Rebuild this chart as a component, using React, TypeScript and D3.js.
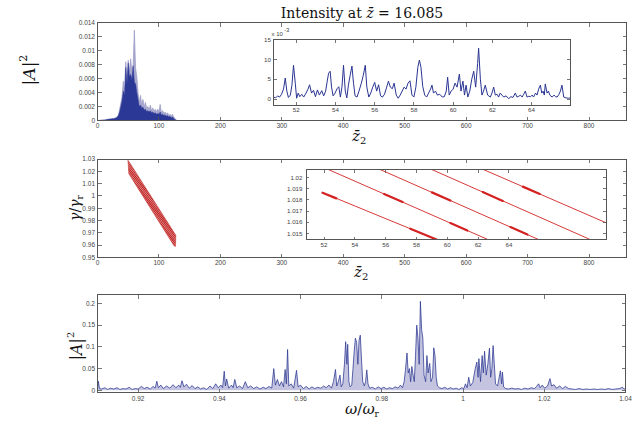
import React from "react";
import * as d3 from "d3";

// ---------------- Panel 1: |A|^2 vs z2 ----------------
const histZ = [0,2,4,6,8,10,12,14,16,18,20,22,24,26,28,30,32,34,36,38,40,42,44,46,48,50,52,54,56,58,60,62,64,66,68,70,72,74,76,78,80,82,84,86,88,90,92,94,96,98,100,102,104,106,108,110,112,114,116,118,120,122,124,126,128,130];
// spike tops (x1e-3)
const histPeak = [0,0,0.02,0.03,0.05,0.06,0.08,0.1,0.15,0.18,0.22,0.2,0.28,0.25,0.35,0.4,0.5,0.8,1.6,2.5,3.4,5.6,4.0,8.4,6.0,8.6,7.0,8.8,6.8,8.0,12.9,7.5,6.2,4.0,2.6,3.6,2.2,3.0,1.9,2.6,1.7,2.0,1.5,2.2,1.4,1.8,1.3,1.6,1.2,1.6,1.3,2.3,1.1,1.4,1.0,1.2,0.9,1.1,0.7,0.9,0.6,0.9,0.5,0.3,0.05,0];
// dense core (x1e-3)
const histCore = [0,0,0.02,0.03,0.05,0.06,0.08,0.1,0.15,0.18,0.2,0.2,0.25,0.25,0.3,0.35,0.45,0.7,1.2,2.0,2.8,4.2,3.6,7.6,5.2,8.2,6.2,6.6,5.8,7.8,5.5,5.2,4.0,3.0,2.0,2.2,1.8,1.9,1.5,1.6,1.3,1.4,1.2,1.4,1.1,1.2,1.0,1.1,0.9,1.0,0.9,1.2,0.8,0.9,0.7,0.8,0.6,0.7,0.5,0.6,0.4,0.5,0.3,0.15,0.02,0];
const topXTicks = [0,100,200,300,400,500,600,700,800];
const topYTicks = [0,0.002,0.004,0.006,0.008,0.01,0.012,0.014];
const topYLabels = ["0","0.002","0.004","0.006","0.008","0.01","0.012","0.014"];

// inset: [z2, |A|^2 x1e-3]
const insetPoints: [number, number][] = [[50.84,0.5],[50.95,0.3],[51.05,0.8],[51.15,0.5],[51.25,1.2],[51.35,2.5],[51.44,5.3],[51.52,2.0],[51.6,0.4],[51.7,1.0],[51.78,3.5],[51.86,8.5],[51.95,4.0],[52.02,0.2],[52.1,1.5],[52.18,0.6],[52.28,1.2],[52.38,0.5],[52.5,1.5],[52.6,2.5],[52.68,3.6],[52.78,1.5],[52.88,2.2],[52.98,0.6],[53.08,2.3],[53.18,1.0],[53.3,2.1],[53.4,0.8],[53.5,2.0],[53.58,4.5],[53.65,6.5],[53.73,7.0],[53.8,3.0],[53.88,0.8],[53.98,1.5],[54.08,2.6],[54.17,3.1],[54.25,0.5],[54.33,3.0],[54.41,8.5],[54.5,2.0],[54.58,0.3],[54.66,3.5],[54.75,6.0],[54.84,8.3],[54.92,4.0],[55.0,0.8],[55.1,0.5],[55.2,2.0],[55.32,4.0],[55.42,6.0],[55.52,8.5],[55.6,3.0],[55.7,0.5],[55.8,1.5],[55.9,3.0],[56.0,4.2],[56.1,2.0],[56.2,3.6],[56.3,0.8],[56.4,0.5],[56.5,1.2],[56.6,2.8],[56.7,4.5],[56.8,3.0],[56.9,2.6],[56.99,4.0],[57.1,1.0],[57.2,0.2],[57.3,1.0],[57.4,2.0],[57.5,3.0],[57.6,2.5],[57.7,4.0],[57.8,4.6],[57.9,1.0],[58.0,0.5],[58.1,3.0],[58.2,8.0],[58.28,9.8],[58.36,8.0],[58.45,3.2],[58.55,1.0],[58.65,0.5],[58.75,1.5],[58.85,2.5],[58.92,3.5],[59.0,1.5],[59.1,2.0],[59.2,1.0],[59.32,1.2],[59.45,0.5],[59.55,0.6],[59.65,2.0],[59.72,5.5],[59.8,1.0],[59.9,2.0],[60.0,2.5],[60.1,4.0],[60.2,3.0],[60.32,6.3],[60.4,2.0],[60.5,4.5],[60.58,1.0],[60.66,3.5],[60.75,0.5],[60.85,2.0],[60.95,5.0],[61.05,7.0],[61.15,3.0],[61.25,9.0],[61.3,12.8],[61.39,5.0],[61.47,1.0],[61.55,2.0],[61.64,3.5],[61.76,1.0],[61.9,0.5],[61.98,1.5],[62.07,3.0],[62.15,1.0],[62.24,1.2],[62.32,0.5],[62.4,1.5],[62.49,1.0],[62.58,0.5],[62.7,0.8],[62.83,0.1],[62.95,0.6],[63.05,0.4],[63.17,1.5],[63.26,0.5],[63.35,0.7],[63.43,1.0],[63.52,0.5],[63.6,1.2],[63.68,2.0],[63.77,0.5],[63.86,0.7],[63.95,0.6],[64.03,1.0],[64.1,0.5],[64.2,1.5],[64.28,1.0],[64.36,2.5],[64.45,3.5],[64.52,1.5],[64.59,2.0],[64.65,1.0],[64.7,3.8],[64.79,1.5],[64.86,2.0],[64.93,1.0],[65.05,0.5],[65.15,1.0],[65.22,0.6],[65.3,0.5],[65.4,1.2],[65.47,2.0],[65.55,3.5],[65.64,0.5],[65.75,0.3],[65.89,0.2],[65.96,0.3]];
const insetXTicks = [52,54,56,58,60,62,64];
const insetYTicks = [0,5,10,15];

// ---------------- Panel 2: gamma/gamma_r vs z2 ----------------
const bandZ = [49.5,52.5,127.5,127,124.5,51];
const bandG = [1.029,1.027,0.968,0.959,0.9595,1.018];
const midYTicks = [0.95,0.96,0.97,0.98,0.99,1,1.01,1.02,1.03];
const midYLabels = ["0.95","0.96","0.97","0.98","0.99","1","1.01","1.02","1.03"];
const beamZ0 = [51.92,52.28,55.64,58.99,62.34];
const beamG0 = [1.01863,1.02071,1.02071,1.02071,1.02071];
const beamZ1 = [59.3,62.63,65.92,69.27,70.31];
const beamG1 = [1.01446,1.01446,1.01446,1.01446,1.01595];
const thickBeam = [0,0,1,1,2,2,3,4];
const thickZ0 = [51.9,57.6,55.9,60.2,59.0,64.1,62.3,64.9];
const thickZ1 = [52.8,59.3,57.1,61.3,60.2,65.2,63.6,66.0];
const gInsetYTicks = [1.015,1.016,1.017,1.018,1.019,1.02];
const gInsetYLabels = ["1.015","1.016","1.017","1.018","1.019","1.02"];

// ---------------- Panel 3: spectrum ----------------
const specPoints: [number, number][] = [[0.9100,0.002],[0.9102,0.021],[0.9105,0.004],[0.9110,0.003],[0.9118,0.006],[0.9125,0.002],[0.9132,0.005],[0.9140,0.003],[0.9148,0.006],[0.9155,0.002],[0.9163,0.004],[0.9170,0.003],[0.9178,0.007],[0.9185,0.002],[0.9193,0.004],[0.9200,0.003],[0.9208,0.009],[0.9215,0.004],[0.9222,0.007],[0.9230,0.003],[0.9237,0.009],[0.9242,0.005],[0.9246,0.021],[0.9250,0.006],[0.9256,0.012],[0.9262,0.004],[0.9270,0.010],[0.9278,0.005],[0.9286,0.013],[0.9293,0.006],[0.9300,0.012],[0.9304,0.007],[0.9308,0.022],[0.9313,0.008],[0.9319,0.014],[0.9326,0.005],[0.9333,0.011],[0.9340,0.004],[0.9347,0.008],[0.9354,0.003],[0.9361,0.006],[0.9369,0.002],[0.9377,0.010],[0.9384,0.004],[0.9391,0.015],[0.9397,0.006],[0.9404,0.012],[0.9408,0.006],[0.9412,0.044],[0.9415,0.010],[0.9418,0.026],[0.9423,0.005],[0.9430,0.012],[0.9434,0.006],[0.9438,0.025],[0.9443,0.006],[0.9450,0.010],[0.9457,0.004],[0.9464,0.020],[0.9470,0.006],[0.9477,0.010],[0.9485,0.004],[0.9492,0.008],[0.9500,0.003],[0.9508,0.007],[0.9515,0.004],[0.9522,0.009],[0.9529,0.005],[0.9534,0.050],[0.9538,0.012],[0.9543,0.025],[0.9548,0.010],[0.9553,0.020],[0.9558,0.008],[0.9562,0.048],[0.9565,0.015],[0.9568,0.094],[0.9571,0.010],[0.9577,0.015],[0.9583,0.005],[0.9590,0.046],[0.9594,0.008],[0.9600,0.012],[0.9607,0.004],[0.9614,0.009],[0.9621,0.003],[0.9628,0.008],[0.9635,0.004],[0.9642,0.007],[0.9650,0.005],[0.9657,0.010],[0.9663,0.006],[0.9670,0.012],[0.9676,0.005],[0.9681,0.020],[0.9686,0.048],[0.9689,0.010],[0.9693,0.020],[0.9697,0.035],[0.9700,0.008],[0.9704,0.015],[0.9708,0.060],[0.9711,0.112],[0.9714,0.060],[0.9716,0.106],[0.9719,0.020],[0.9722,0.008],[0.9726,0.012],[0.9729,0.050],[0.9732,0.090],[0.9735,0.120],[0.9738,0.110],[0.9741,0.060],[0.9744,0.115],[0.9747,0.127],[0.9750,0.070],[0.9753,0.020],[0.9757,0.010],[0.9760,0.020],[0.9763,0.047],[0.9766,0.015],[0.9770,0.005],[0.9777,0.007],[0.9784,0.003],[0.9791,0.008],[0.9798,0.004],[0.9805,0.007],[0.9812,0.003],[0.9819,0.006],[0.9826,0.004],[0.9833,0.008],[0.9840,0.005],[0.9846,0.012],[0.9851,0.006],[0.9855,0.020],[0.9858,0.045],[0.9862,0.086],[0.9865,0.040],[0.9868,0.050],[0.9871,0.020],[0.9874,0.055],[0.9877,0.035],[0.9880,0.020],[0.9883,0.080],[0.9886,0.150],[0.9889,0.120],[0.9892,0.060],[0.9895,0.205],[0.9898,0.140],[0.9901,0.120],[0.9904,0.035],[0.9908,0.020],[0.9911,0.080],[0.9914,0.040],[0.9918,0.062],[0.9921,0.020],[0.9925,0.030],[0.9928,0.098],[0.9931,0.080],[0.9934,0.030],[0.9937,0.010],[0.9942,0.006],[0.9948,0.004],[0.9955,0.007],[0.9962,0.003],[0.9969,0.006],[0.9976,0.003],[0.9983,0.005],[0.9990,0.002],[0.9997,0.006],[1.0002,0.004],[1.0006,0.015],[1.0010,0.006],[1.0014,0.030],[1.0018,0.010],[1.0024,0.018],[1.0030,0.050],[1.0034,0.065],[1.0037,0.030],[1.0039,0.073],[1.0043,0.020],[1.0047,0.080],[1.0050,0.040],[1.0053,0.090],[1.0057,0.035],[1.0061,0.060],[1.0065,0.097],[1.0068,0.030],[1.0071,0.050],[1.0074,0.103],[1.0077,0.060],[1.0080,0.015],[1.0085,0.010],[1.0092,0.045],[1.0095,0.015],[1.0097,0.042],[1.0100,0.008],[1.0105,0.004],[1.0112,0.003],[1.0120,0.005],[1.0128,0.003],[1.0136,0.004],[1.0144,0.002],[1.0152,0.005],[1.0160,0.003],[1.0168,0.006],[1.0176,0.004],[1.0181,0.009],[1.0186,0.015],[1.0190,0.006],[1.0195,0.012],[1.0201,0.005],[1.0208,0.010],[1.0214,0.027],[1.0218,0.010],[1.0224,0.013],[1.0230,0.005],[1.0238,0.010],[1.0245,0.004],[1.0252,0.009],[1.0260,0.004],[1.0268,0.003],[1.0277,0.002],[1.0286,0.004],[1.0295,0.002],[1.0304,0.003],[1.0313,0.002],[1.0322,0.003],[1.0331,0.002],[1.0340,0.003],[1.0349,0.002],[1.0358,0.004],[1.0367,0.002],[1.0376,0.003],[1.0385,0.004],[1.0392,0.007],[1.0397,0.003],[1.0400,0.005]];
const botXTicks = [0.92,0.94,0.96,0.98,1,1.02,1.04];
const botXLabels = ["0.92","0.94","0.96","0.98","1","1.02","1.04"];
const botYTicks = [0,0.05,0.1,0.15,0.2];
const botYLabels = ["0","0.05","0.1","0.15","0.2"];

const AX = "#555";
const LBL = "#444";
const TICKFONT = "Liberation Sans, Arial, sans-serif";
const SERIF = "DejaVu Serif, serif";

type Sc = d3.ScaleLinear<number, number>;

function Frame(props: {
  xs: Sc; ys: Sc; xTicks: number[]; xLabels: string[]; yTicks: number[]; yLabels: string[];
  tick?: number; fs?: number; xOff?: number; yOff?: number; id: string;
}) {
  const { xs, ys, xTicks, xLabels, yTicks, yLabels, id } = props;
  const tick = props.tick ?? 4;
  const fs = props.fs ?? 6.5;
  const xOff = props.xOff ?? 7.5;
  const yOff = props.yOff ?? 2.5;
  const [x0, x1] = xs.range();
  const [yb, yt] = ys.range();
  return (
    <g>
      <g stroke={AX} strokeWidth={0.8} shapeRendering="crispEdges">
        {xTicks.map((t, i) => (
          <g key={id + "x" + i}>
            <line x1={xs(t)} x2={xs(t)} y1={yb} y2={yb - tick} />
            <line x1={xs(t)} x2={xs(t)} y1={yt} y2={yt + tick} />
          </g>
        ))}
        {yTicks.map((t, i) => (
          <g key={id + "y" + i}>
            <line x1={x0} x2={x0 + tick} y1={ys(t)} y2={ys(t)} />
            <line x1={x1} x2={x1 - tick} y1={ys(t)} y2={ys(t)} />
          </g>
        ))}
        <rect x={x0} y={yt} width={x1 - x0} height={yb - yt} fill="none" strokeWidth={1} />
      </g>
      <g fontFamily={TICKFONT} fontSize={fs} fill={LBL}>
        {xTicks.map((t, i) => (
          <text key={id + "xl" + i} x={xs(t)} y={yb + xOff} textAnchor="middle">{xLabels[i]}</text>
        ))}
        {yTicks.map((t, i) => (
          <text key={id + "yl" + i} x={x0 - yOff} y={ys(t) + fs * 0.35} textAnchor="end">{yLabels[i]}</text>
        ))}
      </g>
    </g>
  );
}

export default function App() {
  // panel 1
  const x1 = d3.scaleLinear().domain([0, 861]).range([97.5, 626.5]);
  const y1 = d3.scaleLinear().domain([0, 0.014]).range([120.5, 22.5]);
  const peakArea = d3.area<number>().x((_, i) => x1(histZ[i])).y0(y1(0)).y1((d) => y1(d * 1e-3));
  const peakLine = d3.line<number>().x((_, i) => x1(histZ[i])).y((d) => y1(d * 1e-3));
  const coreArea = d3.area<number>().x((_, i) => x1(histZ[i])).y0(y1(0)).y1((d) => y1(d * 1e-3));

  const xi = d3.scaleLinear().domain([50.84, 65.96]).range([273.5, 570]);
  const yi = d3.scaleLinear().domain([-1.5, 15]).range([105, 39.5]);
  const insetLine = d3.line<[number, number]>().x((d) => xi(d[0])).y((d) => yi(d[1]));

  // panel 2
  const x2 = x1;
  const y2 = d3.scaleLinear().domain([0.95, 1.03]).range([257.5, 159]);
  const bandPts = bandZ.map((z, i) => [x2(z), y2(bandG[i])] as [number, number]);
  const bandPath = d3.line().curve(d3.curveLinearClosed)(bandPts) || "";
  // hatch strokes (texture of the beamlet band), clipped to the band outline
  const hatchTop = 155, hatchBot = 250, hatchSlope = 0.82;
  const hatchStarts = d3.range(40, 180, 1.9);

  const xg = d3.scaleLinear().domain([50.83, 70.3]).range([306, 606]);
  const yg = d3.scaleLinear().domain([1.01446, 1.02071]).range([239.5, 169.5]);
  const beamG = (b: number, z: number) =>
    beamG0[b] + ((beamG1[b] - beamG0[b]) * (z - beamZ0[b])) / (beamZ1[b] - beamZ0[b]);

  // panel 3
  const x3 = d3.scaleLinear().domain([0.91, 1.04]).range([97.5, 625.5]);
  const y3 = d3.scaleLinear().domain([-0.005, 0.2207]).range([392.5, 294.5]);
  const specLine = d3.line<[number, number]>().x((d) => x3(d[0])).y((d) => y3(d[1]));
  const specArea = d3.area<[number, number]>().x((d) => x3(d[0])).y0(y3(0)).y1((d) => y3(d[1]));

  return (
    <svg width={637} height={426} style={{ position: "absolute", left: 0, top: 0, background: "#fff" }}>
      <defs>
        <clipPath id="bandclip">
          <path d={bandPath} />
        </clipPath>
        <clipPath id="gclip">
          <rect x={306} y={169.5} width={300} height={70} />
        </clipPath>
        <clipPath id="iclip">
          <rect x={273.5} y={39.5} width={296.5} height={65.5} />
        </clipPath>
      </defs>
      <rect x={0} y={0} width={637} height={426} fill="#fff" />

      {/* ---------- Panel 1 ---------- */}
      <path d={peakArea(histPeak) || ""} fill="#a9a9cf" />
      <path d={peakLine(histPeak) || ""} fill="none" stroke="#9a9ac6" strokeWidth={0.7} />
      <path d={coreArea(histCore) || ""} fill="#2b3896" stroke="#2b3896" strokeWidth={0.5} />
      <Frame id="p1" xs={x1} ys={y1} xTicks={topXTicks} xLabels={topXTicks.map(String)} yTicks={topYTicks} yLabels={topYLabels} />

      <rect x={273.5} y={39.5} width={296.5} height={65.5} fill="#fff" />
      <g clipPath="url(#iclip)">
        <path d={insetLine(insetPoints) || ""} fill="none" stroke="#2a3592" strokeWidth={1} strokeLinejoin="round" />
      </g>
      <Frame id="i1" xs={xi} ys={yi} xTicks={insetXTicks} xLabels={insetXTicks.map(String)} yTicks={insetYTicks} yLabels={insetYTicks.map(String)} tick={3} fs={6.2} xOff={7.3} yOff={2.6} />
      <g fontFamily={TICKFONT} fill={LBL}>
        <text x={271.5} y={36} fontSize={6}>x 10</text>
        <text x={284} y={31.5} fontSize={6}>-3</text>
      </g>

      <text x={362} y={18} textAnchor="middle" fontFamily={SERIF} fontSize={14} fill="#111">
        Intensity at <tspan fontStyle="italic">{"z\u0304"}</tspan> = 16.085
      </text>
      <text x={352} y={141} fontFamily={SERIF} fontSize={15} fill="#111">
        <tspan fontStyle="italic">{"z\u0304"}</tspan>
        <tspan fontSize={10} dy={3}>2</tspan>
      </text>
      <text transform="translate(35,70) rotate(-90)" textAnchor="middle" fontFamily={SERIF} fontSize={17} fill="#111">
        |<tspan fontStyle="italic">A</tspan>|<tspan fontSize={11} dy={-8}>2</tspan>
      </text>

      {/* ---------- Panel 2 ---------- */}
      <path d={bandPath} fill="#f0c4c4" />
      <g clipPath="url(#bandclip)" stroke="#bf1f1f" strokeWidth={1.05}>
        {hatchStarts.map((s, k) => (
          <line key={"h" + k} x1={s} y1={hatchTop} x2={s + hatchSlope * (hatchBot - hatchTop)} y2={hatchBot} />
        ))}
      </g>
      <path d={bandPath} fill="none" stroke="#c83a3a" strokeWidth={0.5} />
      <Frame id="p2" xs={x2} ys={y2} xTicks={topXTicks} xLabels={topXTicks.map(String)} yTicks={midYTicks} yLabels={midYLabels} xOff={7} />

      <rect x={306} y={169.5} width={300} height={70} fill="#fff" />
      <g clipPath="url(#gclip)" stroke="#d42222" fill="none">
        {beamZ0.map((z, b) => (
          <line key={"bm" + b} x1={xg(z)} y1={yg(beamG0[b])} x2={xg(beamZ1[b])} y2={yg(beamG1[b])} strokeWidth={0.9} />
        ))}
        {thickBeam.map((b, k) => (
          <line key={"tk" + k} x1={xg(thickZ0[k])} y1={yg(beamG(b, thickZ0[k]))} x2={xg(thickZ1[k])} y2={yg(beamG(b, thickZ1[k]))} strokeWidth={2.2} strokeLinecap="round" />
        ))}
      </g>
      <Frame id="g1" xs={xg} ys={yg} xTicks={insetXTicks} xLabels={insetXTicks.map(String)} yTicks={gInsetYTicks} yLabels={gInsetYLabels} tick={3} fs={6.2} xOff={7.5} yOff={3.5} />

      <text x={354} y={277} fontFamily={SERIF} fontSize={15} fill="#111">
        <tspan fontStyle="italic">{"z\u0304"}</tspan>
        <tspan fontSize={10} dy={3}>2</tspan>
      </text>
      <text transform="translate(80,208) rotate(-90)" textAnchor="middle" fontFamily={SERIF} fontSize={14} fill="#111">
        <tspan fontStyle="italic">γ</tspan>/<tspan fontStyle="italic">γ</tspan><tspan fontSize={9} dy={3}>r</tspan>
      </text>

      {/* ---------- Panel 3 ---------- */}
      <path d={specArea(specPoints) || ""} fill="#c4c4e0" />
      <path d={specLine(specPoints) || ""} fill="none" stroke="#2a3590" strokeWidth={0.75} strokeLinejoin="round" />
      <Frame id="p3" xs={x3} ys={y3} xTicks={botXTicks} xLabels={botXLabels} yTicks={botYTicks} yLabels={botYLabels} xOff={8} />

      <text x={362} y={414} textAnchor="middle" fontFamily={SERIF} fontSize={15} fill="#111">
        <tspan fontStyle="italic">ω</tspan>/<tspan fontStyle="italic">ω</tspan><tspan fontSize={9} dy={3}>r</tspan>
      </text>
      <text transform="translate(82,346) rotate(-90)" textAnchor="middle" fontFamily={SERIF} fontSize={16} fill="#111">
        |<tspan fontStyle="italic">A</tspan>|<tspan fontSize={10} dy={-8}>2</tspan>
      </text>
    </svg>
  );
}
